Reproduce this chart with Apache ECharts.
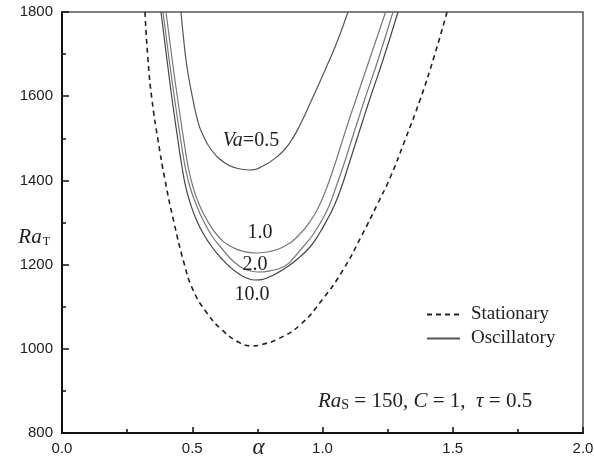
<!DOCTYPE html>
<html>
<head>
<meta charset="utf-8">
<script src="https://cdn.jsdelivr.net/npm/echarts@6/dist/echarts.min.js"></script>
<style>
html,body{margin:0;padding:0;background:#fff;}
#chart{width:594px;height:459px;}
</style>
</head>
<body>
<div id="chart"></div>
<script>
// ---- data ----
const alphaStationary = [0.3186,0.3301,0.3455,0.3685,0.3954,0.4299,0.4683,0.5029,0.5566,0.6142,0.6833,0.7294,0.7678,0.8292,0.9136,0.9981,1.0787,1.1516,1.2092,1.2591,1.3167,1.3743,1.428,1.478];
const raStationary    = [1800,1686,1591,1496,1401,1300,1204,1140,1085,1045,1014,1007,1010.2,1023.3,1056.5,1115.9,1187.2,1270.3,1341.6,1405.7,1496,1591,1693.1,1800];

const alphaVa05 = [0.4568,0.4645,0.4798,0.5029,0.5202,0.5374,0.5739,0.6257,0.6679,0.7179,0.7678,0.8292,0.8714,0.9136,0.9635,1.0134,1.0557,1.0979];
const raVa05    = [1800,1750.1,1669.4,1591,1543.5,1512.6,1472.2,1441.3,1429.5,1424.7,1433,1458,1486.5,1531.6,1598.1,1667,1728.7,1800];

const alphaVa1 = [0.3992,0.423,0.4445,0.4557,0.4703,0.4845,0.5029,0.5259,0.5566,0.5988,0.6449,0.6948,0.7486,0.7985,0.8522,0.906,0.9559,0.9885,1.0173,1.0441,1.0729,1.1017,1.1278,1.1797,1.2422];
const raVa1    = [1800,1686,1591,1543.5,1484.1,1431.8,1384.3,1343.9,1305.9,1267.9,1244.2,1231.6,1227.6,1231.1,1243,1267.9,1305.9,1341.6,1384.3,1431.8,1487.7,1543.5,1591,1686,1800];

const alphaVa2 = [0.3877,0.4115,0.433,0.4441,0.4587,0.4729,0.4914,0.5144,0.5413,0.5758,0.6085,0.6449,0.6756,0.7102,0.7524,0.7985,0.856,0.8906,0.9251,0.9597,0.9981,1.0269,1.0518,1.0787,1.1075,1.1363,1.1612,1.2131,1.2706];
const raVa2    = [1800,1686,1591,1543.5,1484.1,1431.8,1384.3,1343.9,1305.9,1267.9,1241.8,1215.7,1199,1187.2,1182.4,1185.3,1196.7,1216.9,1241.8,1267.9,1305.9,1341.6,1384.3,1431.8,1487.7,1543.5,1591,1686,1800];

const alphaVa10 = [0.38,0.4031,0.423,0.4338,0.4476,0.4607,0.4752,0.4933,0.5163,0.5432,0.5758,0.6104,0.6449,0.6795,0.7083,0.7409,0.7908,0.8637,0.906,0.952,0.9866,1.0173,1.0461,1.0729,1.0979,1.1267,1.1555,1.1804,1.2322,1.2898];
const raVa10    = [1800,1686,1591,1543.5,1484.1,1431.8,1384.3,1343.9,1305.9,1272.7,1241.8,1215.7,1194.3,1177.7,1168.2,1163.4,1169.4,1194.3,1214.5,1241.8,1272.7,1305.9,1341.6,1384.3,1431.8,1487.7,1543.5,1591,1686,1800];

const curveLabels = ['{i|Va}=0.5', '1.0', '2.0', '10.0'];
const legendNames = ['Stationary', 'Oscillatory'];
const xTickLabels = ['0.0','0.5','1.0','1.5','2.0'];

// ---- build ----
function pairs(a, r) { return a.map((x, i) => [x, r[i]]); }
const SERIF = '"Liberation Serif","DejaVu Serif",serif';
const SANS = '"Liberation Sans",Arial,sans-serif';
const CLEAR = 'rgba(0,0,0,0)';

function labelledData(a, r, text, pos, offset) {
  const d = pairs(a, r);
  let mi = 0;
  r.forEach((v, i) => { if (v < r[mi]) mi = i; });
  d[mi] = {
    value: d[mi],
    label: {
      show: true, formatter: text, position: pos, distance: 0, offset: offset,
      fontFamily: SERIF, fontSize: 20, color: '#222',
      rich: { i: { fontFamily: SERIF, fontStyle: 'italic', fontSize: 20, color: '#222' } }
    }
  };
  return d;
}

function solid(data, color, width) {
  return {
    name: legendNames[1], type: 'line', data: data,
    showSymbol: true, symbol: 'circle', symbolSize: 1,
    itemStyle: { color: CLEAR, borderWidth: 0 },
    smooth: 0.5, clip: true,
    lineStyle: { color: color, width: width, type: 'solid' },
    label: { show: false }, emphasis: { disabled: true }, z: 3
  };
}

const chart = echarts.init(document.getElementById('chart'), null, { renderer: 'canvas' });
chart.setOption({
  animation: false,
  backgroundColor: '#fff',
  grid: { left: 62, right: 11, top: 12, bottom: 26, containLabel: false, outerBoundsMode: 'none',
          show: true, borderColor: '#555', borderWidth: 1.5 },
  legend: {
    data: legendNames, orient: 'vertical', left: 421, top: 300,
    itemWidth: 33, itemHeight: 14, itemGap: 5,
    itemStyle: { color: CLEAR, borderWidth: 0 },
    textStyle: { fontFamily: SERIF, fontSize: 19, color: '#222', padding: [0,0,0,6] }
  },
  xAxis: {
    type: 'value', min: 0, max: 2, interval: 0.5,
    name: 'α', nameLocation: 'middle', nameGap: 3, nameMoveOverlap: false,
    nameTextStyle: { fontFamily: SERIF, fontStyle: 'italic', fontSize: 23, color: '#222', padding: [0,128,0,0] },
    axisLine: { show: true, lineStyle: { color: '#111', width: 2 } },
    axisTick: { show: true, inside: true, length: 6, lineStyle: { color: '#111', width: 1.5 } },
    minorTick: { show: true, splitNumber: 2, length: 4, lineStyle: { color: '#111', width: 1.5 } },
    axisLabel: { fontFamily: SANS, fontSize: 15, color: '#222', margin: 8,
      formatter: v => xTickLabels[Math.round(v / 0.5)] },
    splitLine: { show: false }
  },
  yAxis: {
    type: 'value', min: 800, max: 1800, interval: 200,
    name: '{i|Ra}{s|T}', nameLocation: 'middle', nameRotate: 0, nameGap: 12, nameMoveOverlap: false,
    nameTextStyle: { align: 'right', padding: [30,0,0,0],
      rich: { i: { fontFamily: SERIF, fontStyle: 'italic', fontSize: 21, color: '#222' },
              s: { fontFamily: SERIF, fontSize: 12, color: '#222', verticalAlign: 'bottom', padding: [0,0,0,1] } } },
    axisLine: { show: true, lineStyle: { color: '#111', width: 2 } },
    axisTick: { show: true, inside: true, length: 7, lineStyle: { color: '#111', width: 1.5 } },
    minorTick: { show: true, splitNumber: 2, length: 4, lineStyle: { color: '#111', width: 1.5 } },
    axisLabel: { fontFamily: SANS, fontSize: 15, color: '#222', margin: 9, formatter: v => String(v) },
    splitLine: { show: false }
  },
  graphic: [{
    type: 'text', left: 318, top: 391, z: 10,
    style: {
      text: '{i|Ra}{s|S}{n| = 150, }{i|C}{n| = 1,  }{i|τ}{n| = 0.5}',
      rich: {
        i: { fontFamily: SERIF, fontStyle: 'italic', fontSize: 21, fill: '#222' },
        s: { fontFamily: SERIF, fontSize: 14, fill: '#222', verticalAlign: 'bottom' },
        n: { fontFamily: SERIF, fontSize: 21, fill: '#222' }
      }
    }
  }],
  series: [
    {
      name: legendNames[0], type: 'line', data: pairs(alphaStationary, raStationary),
      showSymbol: true, symbol: 'circle', symbolSize: 1,
      itemStyle: { color: CLEAR, borderWidth: 0 },
      smooth: 0.5, clip: true, emphasis: { disabled: true },
      lineStyle: { color: '#222', width: 1.6, type: [5, 4] }, z: 2
    },
    solid(labelledData(alphaVa05, raVa05, curveLabels[0], 'top', [2, -19]), '#555', 1.2),
    solid(labelledData(alphaVa1, raVa1, curveLabels[1], 'top', [3, -10]), '#777', 1.2),
    solid(labelledData(alphaVa2, raVa2, curveLabels[2], 'top', [-3, 3]), '#777', 1.2),
    solid(labelledData(alphaVa10, raVa10, curveLabels[3], 'bottom', [-3, 4]), '#444', 1.2)
  ]
});
</script>
</body>
</html>
